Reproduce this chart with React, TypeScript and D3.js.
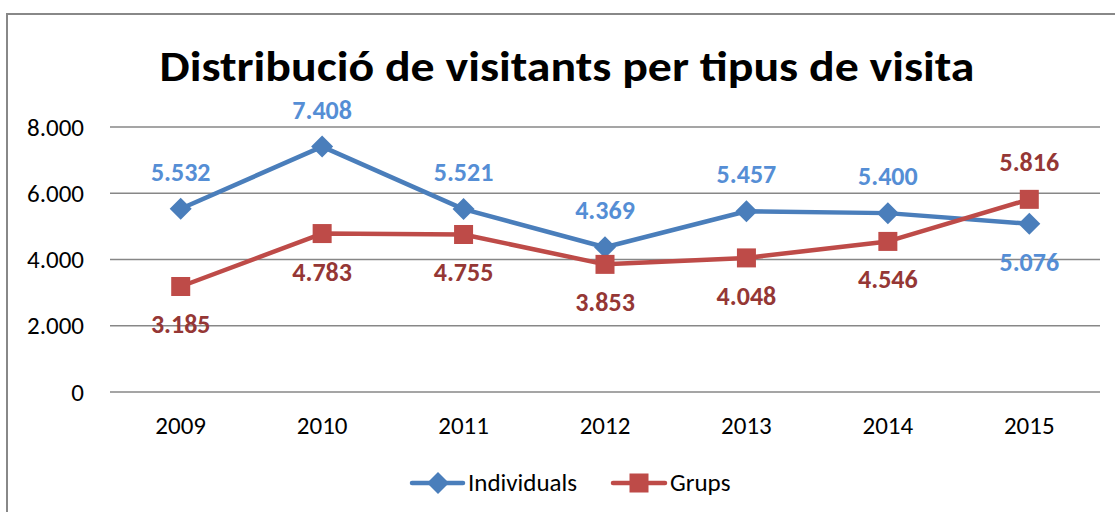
import React from "react";
import * as d3 from "d3";

const YEARS = ["2009", "2010", "2011", "2012", "2013", "2014", "2015"];
const INDIVIDUALS = [5532, 7408, 5521, 4369, 5457, 5400, 5076];
const GRUPS = [3185, 4783, 4755, 3853, 4048, 4546, 5816];
const Y_TICKS = [0, 2000, 4000, 6000, 8000];
// label placement: true = above the point
const IND_ABOVE = [true, true, true, true, true, true, false];
const GRP_ABOVE = [false, false, false, false, false, false, true];

const W = 1115, H = 512;
const FONT = "Carlito, Calibri, Lato, 'Open Sans', sans-serif";
const fmt = (v: number) => (v === 0 ? "0" : d3.format(",")(v).replace(/,/g, "."));

export default function App() {
  const m = { left: 110, right: 15, top: 127, bottom: 120 };
  const x = d3.scaleBand().domain(YEARS).range([m.left, W - m.right]);
  const y = d3.scaleLinear().domain([0, 8000]).range([392, 127]);
  const cx = (d: string) => (x(d) ?? 0) + x.bandwidth() / 2;

  const line = d3.line<number>().x((_, i) => cx(YEARS[i])).y(d => y(d));

  const series = [
    { name: "Individuals", data: INDIVIDUALS, stroke: "#4A7EBB", label: "#558ED5", above: IND_ABOVE, marker: "diamond" },
    { name: "Grups", data: GRUPS, stroke: "#BE4B48", label: "#953735", above: GRP_ABOVE, marker: "square" },
  ];

  const marker = (kind: string, px: number, py: number, color: string, key: string) =>
    kind === "diamond" ? (
      <path key={key} d={`M${px},${py - 11} L${px + 11},${py} L${px},${py + 11} L${px - 11},${py} Z`} fill={color} />
    ) : (
      <rect key={key} x={px - 9.5} y={py - 9.5} width={19} height={19} fill={color} />
    );

  return (
    <div style={{ position: "absolute", left: 0, top: 0 }}>
      <svg width={W} height={H} style={{ display: "block", background: "#fff" }} fontFamily={FONT}>
        <rect x={7} y={14} width={W + 20} height={H + 20} fill="none" stroke="#888" strokeWidth={2} />
        <text x={567} y={81} textAnchor="middle" fontSize={42} fontWeight="bold" fill="#000"
          textLength={815} lengthAdjust="spacingAndGlyphs">
          Distribució de visitants per tipus de visita
        </text>

        {/* grid + y labels */}
        {Y_TICKS.map(t => (
          <g key={t}>
            <line x1={m.left} x2={W - m.right} y1={y(t)} y2={y(t)} stroke="#878787" strokeWidth={1.5} />
            <text x={84} y={y(t) + 8.5} textAnchor="end" fontSize={25} fill="#000">{fmt(t)}</text>
          </g>
        ))}

        {/* x labels */}
        {YEARS.map(yr => (
          <text key={yr} x={cx(yr)} y={434} textAnchor="middle" fontSize={25} fill="#000">{yr}</text>
        ))}

        {/* series */}
        {series.map(s => (
          <g key={s.name}>
            <path d={line(s.data) ?? ""} fill="none" stroke={s.stroke} strokeWidth={4.5} strokeLinejoin="round" />
            {s.data.map((v, i) => marker(s.marker, cx(YEARS[i]), y(v), s.stroke, s.name + i))}
            {s.data.map((v, i) => (
              <text key={"l" + i} x={cx(YEARS[i])} y={s.above[i] ? y(v) - 28 : y(v) + 47}
                textAnchor="middle" fontSize={26} fontWeight="bold" fill={s.label}>
                {fmt(v)}
              </text>
            ))}
          </g>
        ))}

        {/* legend */}
        <g>
          <line x1={412} x2={463} y1={483} y2={483} stroke="#4A7EBB" strokeWidth={4.5} strokeLinecap="round" />
          {marker("diamond", 438, 483, "#4A7EBB", "ld")}
          <text x={468} y={491} fontSize={25} fill="#000">Individuals</text>
          <line x1={613} x2={665} y1={483} y2={483} stroke="#BE4B48" strokeWidth={4.5} strokeLinecap="round" />
          {marker("square", 639, 483, "#BE4B48", "ls")}
          <text x={670} y={491} fontSize={25} fill="#000">Grups</text>
        </g>
      </svg>
    </div>
  );
}
